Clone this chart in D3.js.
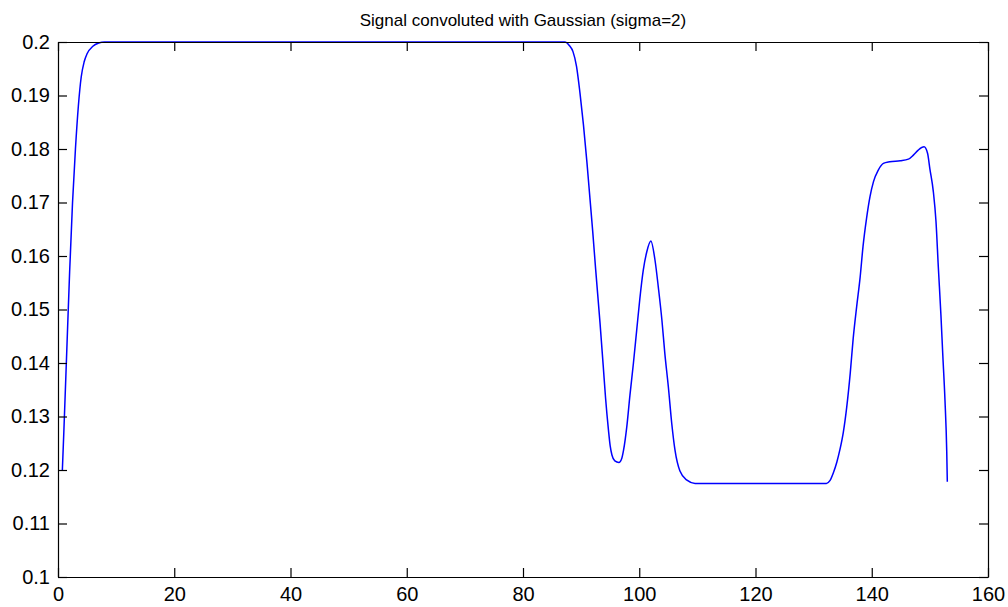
<!DOCTYPE html>
<html>
<head>
<meta charset="utf-8">
<script src="https://cdn.jsdelivr.net/npm/d3@7"></script>
<style>
  body { margin: 0; background: #fff; }
  svg { display: block; font-family: Arial, "Liberation Sans", sans-serif; }
  .tick-label { font-size: 20px; fill: #000; }
  .title { font-size: 17px; fill: #000; }
</style>
</head>
<body>
<svg id="chart"></svg>
<script>
// Signal convoluted with Gaussian (sigma=2)
const sampleX = [
    0.75, 1.0, 1.5, 2.0, 2.5, 3.0, 3.5, 4.0, 4.5, 5.0, 6.0, 7.0, 8.0,
    87.2, 88.0, 88.6, 89.2, 89.8, 90.4, 91.0, 91.5, 92.0, 92.5, 93.25,
    93.8, 94.2, 94.7, 95.0, 95.3, 95.8, 96.5, 97.0, 97.3, 97.85, 98.4,
    99.0, 99.55, 100.1, 100.7, 101.3, 102.0, 102.7, 103.3, 103.9, 104.4,
    105.0, 105.6, 106.15, 107.0, 108.2, 109.6,
    132.2, 132.8, 133.4, 134.0, 134.5, 135.1, 135.7, 136.3, 136.8, 137.4,
    138.0, 138.5, 139.1, 139.7, 140.3, 141.1, 142.0, 143.1, 144.9, 146.3,
    147.2, 148.0, 149.0, 149.6, 150.0, 150.6, 151.05, 151.45, 151.9, 152.2,
    152.6, 152.9, 153.0
];
const sampleY = [
    0.120, 0.127, 0.142, 0.157, 0.170, 0.180, 0.188, 0.1935, 0.1963, 0.1978, 0.1992, 0.1998, 0.2,
    0.2, 0.1993, 0.1982, 0.1955, 0.1905, 0.1845, 0.1775, 0.1710, 0.1645, 0.1575, 0.1475,
    0.1395, 0.1335, 0.1275, 0.1245, 0.1228, 0.1217, 0.1214, 0.1222, 0.1237, 0.128, 0.134,
    0.140, 0.146, 0.152, 0.1574, 0.1608, 0.1628, 0.1593, 0.154, 0.148, 0.1418,
    0.1356, 0.1286, 0.1237, 0.1198, 0.1181, 0.1175,
    0.1175, 0.118, 0.1195, 0.1215, 0.1237, 0.127, 0.1318, 0.1381, 0.1445, 0.1505,
    0.156, 0.1618, 0.167, 0.1711, 0.1739, 0.176, 0.1773, 0.1776, 0.1778, 0.1781,
    0.1789, 0.1798, 0.1804, 0.1792, 0.1763, 0.172, 0.1665, 0.158, 0.149, 0.142,
    0.133, 0.1235, 0.1178
];

const xTicks = [0, 20, 40, 60, 80, 100, 120, 140, 160];
const yTicks = [0.1, 0.11, 0.12, 0.13, 0.14, 0.15, 0.16, 0.17, 0.18, 0.19, 0.2];
const chartTitle = 'Signal convoluted with Gaussian (sigma=2)';

const width = 1008, height = 607;
const margin = { top: 42, right: 20, bottom: 30, left: 58 };
const innerW = width - margin.left - margin.right;
const innerH = height - margin.top - margin.bottom;
const tickLen = 9;

const svg = d3.select('#chart')
    .attr('width', width)
    .attr('height', height);

const g = svg.append('g')
    .attr('transform', `translate(${margin.left},${margin.top})`);

const x = d3.scaleLinear().domain([0, 160]).range([0, innerW]);
const y = d3.scaleLinear().domain([0.1, 0.2]).range([innerH, 0]);

const fmt = d => String(+d.toFixed(2));

// signal line
const points = sampleX.map((v, i) => [v, sampleY[i]]);
const line = d3.line()
    .x(d => x(d[0]))
    .y(d => y(d[1]))
    .curve(d3.curveMonotoneX);

g.append('path')
    .datum(points)
    .attr('fill', 'none')
    .attr('stroke', '#0000ff')
    .attr('stroke-width', 1.5)
    .attr('d', line);

// box axes, MATLAB style: inward ticks on all four sides
const styleAxis = sel => {
    sel.select('.domain').attr('stroke', '#000').attr('stroke-width', 1.2);
    sel.selectAll('.tick line').attr('stroke', '#000').attr('stroke-width', 1.2);
};

g.append('g')
    .attr('transform', `translate(0,${innerH})`)
    .call(d3.axisBottom(x).tickValues(xTicks).tickSizeInner(-tickLen).tickSizeOuter(0).tickPadding(10).tickFormat(d3.format('d')))
    .call(styleAxis)
    .call(a => a.selectAll('text').attr('class', 'tick-label').attr('font-size', null).attr('font-family', null));

g.append('g')
    .call(d3.axisTop(x).tickValues(xTicks).tickSizeInner(-tickLen).tickSizeOuter(0).tickFormat(''))
    .call(styleAxis);

g.append('g')
    .call(d3.axisLeft(y).tickValues(yTicks).tickSizeInner(-tickLen).tickSizeOuter(0).tickPadding(8).tickFormat(fmt))
    .call(styleAxis)
    .call(a => a.selectAll('text').attr('class', 'tick-label').attr('font-size', null).attr('font-family', null));

g.append('g')
    .attr('transform', `translate(${innerW},0)`)
    .call(d3.axisRight(y).tickValues(yTicks).tickSizeInner(-tickLen).tickSizeOuter(0).tickFormat(''))
    .call(styleAxis);

svg.append('text')
    .attr('class', 'title')
    .attr('x', margin.left + innerW / 2)
    .attr('y', 26)
    .attr('text-anchor', 'middle')
    .text(chartTitle);
</script>
</body>
</html>
